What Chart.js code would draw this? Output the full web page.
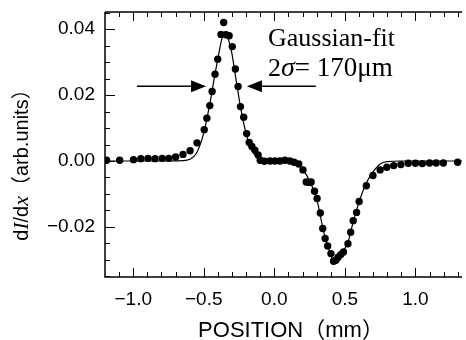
<!DOCTYPE html>
<html>
<head>
<meta charset="utf-8">
<script src="https://cdn.jsdelivr.net/npm/chart.js@4"></script>
<style>
  html, body { margin: 0; padding: 0; background: #fff; }
  canvas { display: block; }
</style>
</head>
<body>
<canvas id="c" width="466" height="340"></canvas>
<script>
// measured dI/dx points (position in mm, arb. units)
const measuredX = [-1.189, -1.096, -0.998, -0.946, -0.895, -0.846, -0.795, -0.748, -0.699, -0.647,
  -0.597, -0.548, -0.497, -0.478, -0.457, -0.441, -0.420, -0.401, -0.378, -0.359,
  -0.343, -0.320, -0.298, -0.276, -0.257, -0.240, -0.217, -0.196, -0.178, -0.159,
  -0.138, -0.115, -0.100, -0.070, -0.030, 0.005, 0.040, 0.075, 0.110, 0.140,
  0.173, 0.203, 0.226, 0.250, 0.261, 0.285, 0.303, 0.326, 0.343, 0.360,
  0.378, 0.401, 0.420, 0.436, 0.452, 0.471, 0.490, 0.522, 0.541, 0.559,
  0.583, 0.601, 0.652, 0.699, 0.750, 0.797, 0.846, 0.897, 0.949, 1.000,
  1.049, 1.100, 1.147, 1.198, 1.299];
const measuredY = [0.0002, 0.0002, 0.0004, 0.0007, 0.0008, 0.0007, 0.0008, 0.0008, 0.0012, 0.0020,
  0.0031, 0.0055, 0.0095, 0.0130, 0.0168, 0.0211, 0.0263, 0.0309, 0.0384, 0.0420,
  0.0383, 0.0380, 0.0347, 0.0279, 0.0226, 0.0165, 0.0133, 0.0083, 0.0056, 0.0044,
  0.0033, 0.0018, 0.0002, -0.0001, 0.0000, 0.0000, 0.0000, 0.0002, 0.0000, -0.0004,
  -0.0009, -0.0027, -0.0064, -0.0065, -0.0064, -0.0092, -0.0114, -0.0158, -0.0205, -0.0235,
  -0.0258, -0.0281, -0.0304, -0.0301, -0.0292, -0.0284, -0.0276, -0.0251, -0.0216, -0.0181,
  -0.0156, -0.0123, -0.0075, -0.0044, -0.0027, -0.0019, -0.0014, -0.0011, -0.0007, -0.0007,
  -0.0008, -0.0006, -0.0006, -0.0006, -0.0004];

// Gaussian fit curve
const fitX = [-1.2, -0.8, -0.65, -0.6, -0.55, -0.5, -0.45, -0.42, -0.40, -0.38,
  -0.36, -0.34, -0.32, -0.30, -0.28, -0.25, -0.22, -0.19, -0.15, -0.10,
  -0.05, 0.0, 0.1, 0.15, 0.20, 0.25, 0.30, 0.35, 0.38, 0.40,
  0.42, 0.44, 0.47, 0.50, 0.52, 0.55, 0.60, 0.65, 0.70, 0.75,
  0.80, 0.9, 1.33];
const fitY = [0, 0, 0.0001, 0.0005, 0.0025, 0.0085, 0.0190, 0.0265, 0.0310, 0.0355,
  0.0385, 0.0385, 0.0360, 0.0325, 0.0270, 0.0190, 0.0120, 0.0068, 0.0025, 0.0005,
  0.0001, 0, 0, -0.0003, -0.0025, -0.0060, -0.0115, -0.0215, -0.0260, -0.0285,
  -0.0305, -0.0300, -0.0285, -0.0265, -0.0250, -0.0200, -0.0125, -0.0068, -0.0033, -0.0009,
  -0.0002, 0, 0];

const xTicks = [-1.0, -0.5, 0.0, 0.5, 1.0];
const xTickLabels = ['\u22121.0', '\u22120.5', '0.0', '0.5', '1.0'];
const yTicks = [-0.02, 0.00, 0.02, 0.04];
const yTickLabels = ['\u22120.02', '0.00', '0.02', '0.04'];

const SANS = "'Liberation Sans', 'Noto Sans CJK JP', sans-serif";
const SERIF = "'Liberation Serif', serif";

function noPad(s) {
    s.paddingTop = 0; s.paddingBottom = 0; s.paddingLeft = 0; s.paddingRight = 0;
}

const axesPlugin = {
    id: 'axes',
    afterDatasetsDraw(chart) {
        const ctx = chart.ctx;
        const a = chart.chartArea;
        const xs = chart.scales.x, ys = chart.scales.y;
        ctx.save();
        ctx.strokeStyle = '#000';
        ctx.lineWidth = 1.5;
        ctx.beginPath();
        ctx.moveTo(a.left, a.top);
        ctx.lineTo(a.left, a.bottom);
        ctx.lineTo(a.right, a.bottom);
        ctx.moveTo(a.left, a.top);
        ctx.lineTo(a.right, a.top);
        ctx.stroke();
        ctx.lineWidth = 1;
        ctx.beginPath();
        // x ticks every 0.1, major every 0.5 (bottom and top, inward)
        for (let i = -12; i <= 13; i++) {
            const v = i / 10;
            const px = Math.round(xs.getPixelForValue(v)) + 0.5;
            if (px < a.left + 1 || px > a.right) continue;
            const len = (i % 5 === 0) ? 9 : 5;
            ctx.moveTo(px, a.bottom); ctx.lineTo(px, a.bottom - len);
            ctx.moveTo(px, a.top); ctx.lineTo(px, a.top + len);
        }
        // y ticks every 0.005, major every 0.02
        for (let i = -7; i <= 9; i++) {
            const v = i * 0.005;
            const py = Math.round(ys.getPixelForValue(v)) + 0.5;
            if (py < a.top || py > a.bottom) continue;
            const len = (i % 4 === 0) ? 10 : 5;
            ctx.moveTo(a.left, py); ctx.lineTo(a.left + len, py);
        }
        ctx.stroke();
        ctx.restore();
    },
    afterDraw(chart) {
        const ctx = chart.ctx;
        const xs = chart.scales.x, ys = chart.scales.y;
        ctx.save();
        ctx.fillStyle = '#000';
        ctx.strokeStyle = '#000';

        // FWHM arrows
        const ay = ys.getPixelForValue(0.0227);
        const arrow = (tail, tip) => {
            const x0 = xs.getPixelForValue(tail), x1 = xs.getPixelForValue(tip);
            const dir = Math.sign(x1 - x0);
            ctx.lineWidth = 1.5;
            ctx.beginPath();
            ctx.moveTo(x0, ay); ctx.lineTo(x1 - dir * 14, ay);
            ctx.stroke();
            ctx.beginPath();
            ctx.moveTo(x1, ay);
            ctx.lineTo(x1 - dir * 15, ay - 6);
            ctx.lineTo(x1 - dir * 15, ay + 6);
            ctx.closePath();
            ctx.fill();
        };
        arrow(-0.974, -0.484);
        arrow(0.294, -0.194);

        // fit annotation
        ctx.textBaseline = 'alphabetic';
        ctx.textAlign = 'left';
        const tx = xs.getPixelForValue(-0.045);
        ctx.font = '26px ' + SERIF;
        ctx.fillText('Gaussian-fit', tx, ys.getPixelForValue(0.0348));
        const segs = [['2', '26px ' + SERIF], ['\u03c3', 'italic 28px ' + SERIF], ['= 170\u03bcm', '27px ' + SERIF]];
        let cx = tx;
        const by = ys.getPixelForValue(0.0259);
        segs.forEach(([t, f]) => { ctx.font = f; ctx.fillText(t, cx, by); cx += ctx.measureText(t).width; });

        // x axis title
        ctx.font = '22px ' + SANS;
        ctx.textAlign = 'center';
        ctx.textBaseline = 'middle';
        ctx.fillText('POSITION\uff08mm\uff09', 291, 331);

        // y axis title with italic I and x
        ctx.textAlign = 'left';
        const ySegs = [['d', '20px ' + SANS], ['I', 'italic 21px ' + SERIF], ['/d', '20px ' + SANS],
            ['x', 'italic 22px ' + SERIF], ['\uff08arb.units\uff09', '20px ' + SANS]];
        let total = 0;
        ySegs.forEach(([t, f]) => { ctx.font = f; total += ctx.measureText(t).width; });
        ctx.translate(22, 160);
        ctx.rotate(-Math.PI / 2);
        let sx = -total / 2;
        ySegs.forEach(([t, f]) => { ctx.font = f; ctx.fillText(t, sx, 0); sx += ctx.measureText(t).width; });
        ctx.restore();
    }
};

new Chart(document.getElementById('c'), {
    type: 'scatter',
    data: {
        datasets: [
            {
                label: 'measured',
                data: measuredX.map((x, i) => ({ x: x, y: measuredY[i] })),
                showLine: false,
                pointRadius: 3.7,
                pointBackgroundColor: '#000',
                pointBorderWidth: 0,
                order: 1
            },
            {
                label: 'fit',
                data: fitX.map((x, i) => ({ x: x, y: fitY[i] })),
                showLine: true,
                borderColor: '#000',
                borderWidth: 1.2,
                pointRadius: 0,
                cubicInterpolationMode: 'monotone',
                order: 2
            }
        ]
    },
    options: {
        responsive: false,
        animation: false,
        devicePixelRatio: 1,
        layout: { padding: { top: 12, right: 0, left: 0, bottom: 0 } },
        plugins: { legend: { display: false }, tooltip: { enabled: false } },
        scales: {
            x: {
                type: 'linear',
                min: -1.2,
                max: 1.33,
                grid: { display: false, drawTicks: false },
                border: { display: false },
                afterBuildTicks: (s) => { s.ticks = xTicks.map(v => ({ value: v })); },
                afterFit: (s) => { s.height = 63; noPad(s); },
                ticks: {
                    color: '#000',
                    font: { family: SANS, size: 19 },
                    padding: 11,
                    maxRotation: 0,
                    callback: (v) => xTickLabels[xTicks.indexOf(v)]
                }
            },
            y: {
                type: 'linear',
                min: -0.0352,
                max: 0.0452,
                grid: { display: false, drawTicks: false },
                border: { display: false },
                afterBuildTicks: (s) => { s.ticks = yTicks.map(v => ({ value: v })); },
                afterFit: (s) => { s.width = 105; noPad(s); },
                ticks: {
                    color: '#000',
                    font: { family: SANS, size: 19 },
                    padding: 10,
                    callback: (v) => yTickLabels[yTicks.indexOf(v)]
                }
            }
        }
    },
    plugins: [axesPlugin]
});
</script>
</body>
</html>
